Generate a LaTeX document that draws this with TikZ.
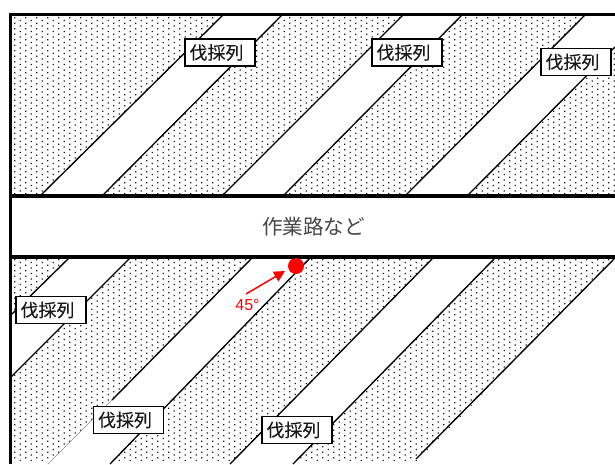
\documentclass[tikz,border=0pt]{standalone}
\usepackage{fontspec}
\usetikzlibrary{arrows.meta}
\newfontfamily\cjk{Noto Sans CJK JP}
\newfontfamily\cjkbold[FakeBold=0.25]{Noto Sans CJK JP}
\setmainfont{Liberation Sans}
\tikzset{
  rowline/.style={black,line width=1.35pt},
  faintline/.style={black!45,line width=0.5pt},
  thickrule/.style={black,line width=4pt},
  frameline/.style={black,line width=3pt},
  rowlabel/.style={draw=black,line width=1.4pt,fill=white,minimum width=70pt,minimum height=27pt,inner sep=0pt,font=\cjkbold\fontsize{18}{18}\selectfont,text=black!90},
  whitestrip/.style={fill=white,draw=none},
  pointer/.style={red,line width=1.5pt,-{Triangle[length=11pt,width=11pt]}}
}
\newcommand{\rowtext}{\hspace{-7pt}\raisebox{1.2pt}{伐採列}}
\begin{document}
\begin{tikzpicture}[x=1pt,y=-1pt]
\useasboundingbox (0,0) rectangle (615,464);
\fill[white] (0,0) rectangle (615,464);
% stipple
\begin{scope}
\clip (11,15) rectangle (615,461);
\foreach \c in {0,...,109}{
  \pgfmathsetmacro{\xx}{14.7+5.5*\c}
  \pgfmathsetmacro{\yo}{mod(\c,2)==0 ? 17.7 : 20.45}
  \fill[black!88] \foreach \r in {0,...,80}{
    ({\xx-0.55},{\yo+5.5*\r-0.55}) rectangle +(1.1,1.1)
  };
}
\end{scope}
% work road
\fill[white] (11,196) rectangle (615,257);
% white strips, upper band
\fill[whitestrip] (41,195) -- (223,15) -- (282,15) -- (103,195) -- cycle;
\fill[whitestrip] (223,195) -- (403,15) -- (462,15) -- (284,195) -- cycle;
\fill[whitestrip] (406,195) -- (585,15) -- (615,15) -- (615,47) -- (468,195) -- cycle;
% white strips, lower band
\fill[white] (0,461) rectangle (615,464);
\fill[whitestrip] (11,315) -- (69,258) -- (130,258) -- (11,377) -- cycle;
\fill[whitestrip] (252,258) -- (310,258) -- (110,464) -- (48,464) -- cycle;
\fill[whitestrip] (433,258) -- (495,258) -- (293,464) -- (230,464) -- cycle;
\fill[whitestrip] (615,258) -- (615,464) -- (415,464) -- cycle;
% strip edges
\coordinate (a1) at (41,195);  \coordinate (a2) at (223,15);
\coordinate (b1) at (103,195); \coordinate (b2) at (282,15);
\coordinate (c1) at (223,195); \coordinate (c2) at (403,15);
\coordinate (d1) at (284,195); \coordinate (d2) at (462,15);
\coordinate (e1) at (406,195); \coordinate (e2) at (585,15);
\coordinate (f1) at (468,195); \coordinate (f2) at (615,47);
\coordinate (g1) at (11,315);  \coordinate (g2) at (69,258);
\coordinate (h1) at (11,377);  \coordinate (h2) at (130,258);
\coordinate (i1) at (112,400); \coordinate (i2) at (252,258);
\coordinate (i3) at (48,464);
\coordinate (j1) at (110,464); \coordinate (j2) at (310,258);
\coordinate (k1) at (230,464); \coordinate (k2) at (433,258);
\coordinate (l1) at (293,464); \coordinate (l2) at (495,258);
\coordinate (m1) at (416,459); \coordinate (m2) at (615,258);
\foreach \p/\q in {a1/a2,b1/b2,c1/c2,d1/d2,e1/e2,f1/f2,g1/g2,h1/h2,i1/i2,j1/j2,k1/k2,l1/l2,m1/m2}{
  \draw[rowline] (\p) -- (\q);
}
\draw[faintline] (i1) -- (i3);
% frame and road rules
\coordinate (tl) at (10.3,14.3); \coordinate (tr) at (615,14.3);
\coordinate (bl) at (10.3,464);
\coordinate (rl1) at (10.3,196); \coordinate (rr1) at (615,196);
\coordinate (rl2) at (10.3,257); \coordinate (rr2) at (615,257);
\draw[frameline] (tr) -- (tl) -- (bl);
\draw[thickrule] (rl1) -- (rr1);
\draw[thickrule] (rl2) -- (rr2);
% labels
\node[rowlabel] (n1) at (220,52.5) {\rowtext};
\node[rowlabel] (n2) at (407,52.5) {\rowtext};
\node[rowlabel] (n3) at (576,62) {\rowtext};
\node[rowlabel] (n4) at (51,310) {\rowtext};
\node[rowlabel] (n5) at (128.5,420) {\rowtext};
\node[rowlabel] (n6) at (297,430) {\rowtext};
\node[font=\cjk\fontsize{20.6}{21}\selectfont,text=black!72,inner sep=0pt] (road) at (313.5,227) {作業路など};
% marker
\node[circle,fill=red,draw=none,minimum size=16pt,inner sep=0pt] (dot) at (296,266) {};
\coordinate (tail) at (246,294);
\draw[pointer] (tail) -- (285,271);
\node[text=red,font=\fontsize{16}{16}\selectfont,inner sep=0pt] (ang) at (247.5,305) {45°};
\end{tikzpicture}
\end{document}
